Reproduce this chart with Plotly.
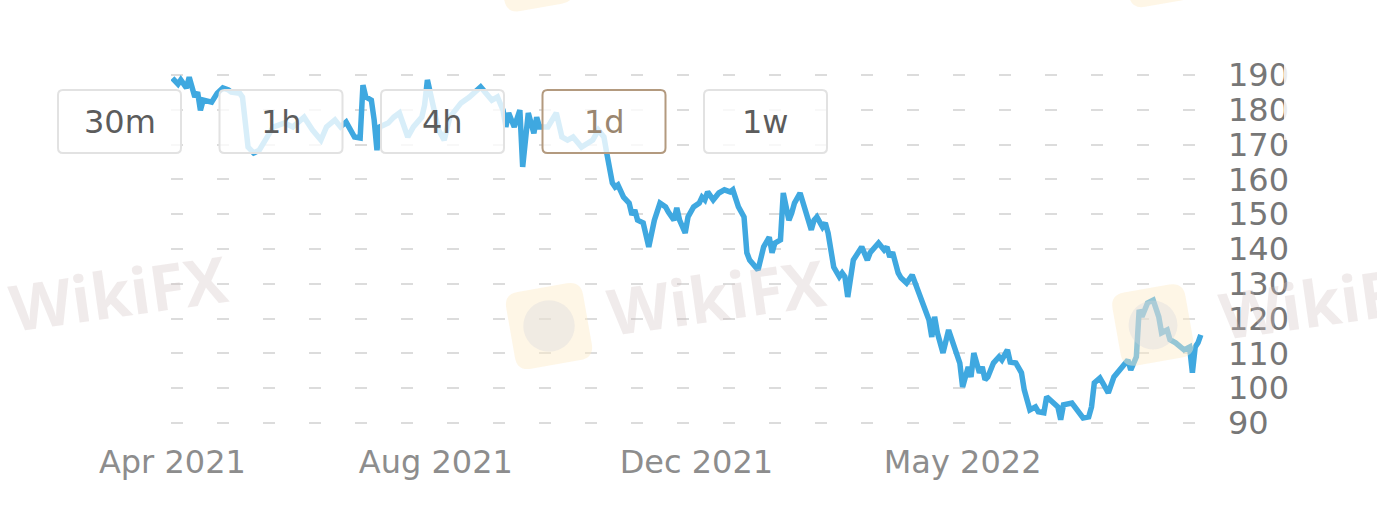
import math

import plotly.graph_objects as go

# trading-day index and closing price
DAY = [0, 2, 3, 5, 6, 8, 9, 10, 11, 14, 16, 18, 20, 21, 24, 25, 27, 29, 31, 34,
       36, 40, 43, 47, 50, 53, 55, 58, 60, 62, 63, 65, 67, 68, 69, 71, 72, 73, 74, 77,
       79, 81, 84, 86, 89, 90, 91, 93, 95, 97, 99, 103, 106, 110, 112, 114, 116, 118, 119, 120,
       122, 124, 125, 127, 129, 130, 131, 134, 137, 139, 141, 143, 146, 148, 150, 152, 154, 155, 156, 157,
       158, 159, 161, 163, 164, 165, 166, 168, 170, 171, 172, 174, 176, 177, 179, 180, 181, 183, 184, 186,
       188, 189, 190, 191, 193, 195, 197, 199, 200, 202, 204, 205, 206, 209, 211, 213, 214, 215, 217, 218,
       220, 221, 222, 224, 226, 228, 229, 230, 232, 233, 234, 236, 238, 239, 240, 241, 243, 245, 246, 248,
       249, 252, 254, 255, 256, 257, 259, 260, 262, 264, 266, 268, 270, 271, 272, 273, 274, 275, 277, 279,
       281, 282, 284, 285, 286, 288, 289, 290, 291, 293, 295, 296, 298, 299, 301, 303, 304, 306, 308, 309,
       311, 312, 314, 316, 317, 318, 321, 323, 325, 327, 328, 329, 331, 332, 334, 336, 338, 339, 341, 342,
       344, 345, 346, 348, 350, 352, 353, 355, 356, 358, 360, 361, 363, 364, 365, 366, 367]
PRICE = [189.1, 187.4, 188.6, 186.3, 189.4, 183.7, 185.1, 179.9, 182.8, 182.2, 184.8, 186.3, 185.7, 185.1, 184.8, 183.7, 169.3, 167.6, 168.4, 172.2,
         175.1, 176.2, 175.1, 177.9, 174.2, 171.3, 175.1, 177.1, 175.1, 176.5, 175.1, 172.2, 171.9, 187.1, 183.7, 182.8, 177.1, 168.4, 175.1, 176.2,
         177.9, 179.1, 172.2, 175.1, 177.9, 181.4, 188.6, 182.0, 174.2, 171.3, 177.9, 182.0, 183.7, 186.6, 184.8, 182.8, 183.7, 179.9, 175.1, 179.1,
         175.1, 179.9, 163.6, 179.1, 173.3, 177.9, 175.1, 175.1, 179.1, 172.2, 171.3, 172.2, 169.3, 170.5, 171.3, 174.2, 172.2, 167.6, 162.7, 159.0,
         157.8, 158.4, 154.9, 153.2, 149.8, 151.2, 148.3, 147.5, 140.6, 145.5, 148.3, 153.2, 152.1, 150.6, 148.3, 151.8, 148.3, 144.6, 149.2, 152.1,
         153.2, 154.9, 154.1, 156.4, 154.1, 156.1, 157.0, 156.4, 157.0, 152.1, 149.2, 138.9, 136.8, 134.0, 140.6, 143.4, 138.9, 141.7, 142.6, 156.1,
         148.3, 150.3, 153.2, 156.1, 151.2, 145.5, 148.3, 149.2, 146.3, 147.5, 144.6, 134.8, 132.0, 133.1, 132.0, 126.2, 136.8, 139.7, 140.6, 136.8,
         138.9, 141.7, 139.7, 140.6, 137.7, 139.1, 133.1, 131.7, 130.2, 132.5, 128.2, 124.8, 119.6, 114.7, 120.5, 115.9, 113.0, 110.1, 116.7, 111.8,
         107.2, 100.3, 106.1, 103.2, 110.1, 104.4, 106.1, 102.4, 103.2, 107.2, 109.0, 108.1, 111.0, 107.5, 107.2, 104.4, 99.5, 93.7, 94.6, 93.2,
         92.9, 97.5, 96.0, 94.6, 90.9, 95.2, 95.7, 93.2, 91.4, 91.7, 94.6, 101.5, 102.9, 101.5, 98.6, 103.2, 105.2, 106.1, 108.1, 105.2,
         109.0, 122.5, 120.5, 124.5, 125.3, 120.5, 115.9, 116.7, 113.9, 113.0, 111.8, 111.0, 111.8, 104.4, 111.8, 113.0, 115.3]

TICK_DAYS = [0, 94, 187, 282]
TICK_TEXT = ["Apr 2021", "Aug 2021", "Dec 2021", "May 2022"]
Y_TICKS = [90, 100, 110, 120, 130, 140, 150, 160, 170, 180, 190]
BUTTONS = ["30m", "1h", "4h", "1d", "1w"]
ACTIVE = "1d"

LINE_COLOR = "#3fa8e0"
W, H = 1377, 510
L, R, T, B = 171, 172, 65, 76
PW, PH = W - L - R, H - T - B


def px(x):
    return (x - L) / PW


def py(y):
    return 1 - (y - T) / PH


def rounded_rect(x0, y0, x1, y1, r, angle=0.0):
    """Rounded rectangle path (pixel box, optional rotation in degrees) in paper coords."""
    cx, cy = (x0 + x1) / 2, (y0 + y1) / 2
    hw, hh = (x1 - x0) / 2, (y1 - y0) / 2
    ca, sa = math.cos(math.radians(angle)), math.sin(math.radians(angle))

    def p(u, v):
        x = cx + u * ca - v * sa
        y = cy + u * sa + v * ca
        return f"{px(x)},{py(y)}"

    return (f"M {p(-hw + r, -hh)} L {p(hw - r, -hh)} Q {p(hw, -hh)} {p(hw, -hh + r)} "
            f"L {p(hw, hh - r)} Q {p(hw, hh)} {p(hw - r, hh)} L {p(-hw + r, hh)} "
            f"Q {p(-hw, hh)} {p(-hw, hh - r)} L {p(-hw, -hh + r)} Q {p(-hw, -hh)} {p(-hw + r, -hh)} Z")


fig = go.Figure()
fig.add_trace(go.Scatter(x=DAY, y=PRICE, mode="lines",
                         line={"color": LINE_COLOR, "width": 5.5},
                         hoverinfo="skip", showlegend=False))

shapes = []
annotations = []

# watermark logos and text
for x0, y0, size in [(510, 287, 78), (1116, 288, 74), (500, -62, 70), (1125, -62, 66)]:
    shapes.append({"type": "path", "xref": "paper", "yref": "paper", "layer": "above",
                   "path": rounded_rect(x0, y0, x0 + size, y0 + size, 14, -10),
                   "fillcolor": "rgba(252,236,200,0.45)", "line": {"width": 0}})
    shapes.append({"type": "circle", "xref": "paper", "yref": "paper", "layer": "above",
                   "x0": px(x0 + size * 0.17), "x1": px(x0 + size * 0.83),
                   "y0": py(y0 + size * 0.17), "y1": py(y0 + size * 0.83),
                   "fillcolor": "rgba(215,215,222,0.35)", "line": {"width": 0}})
for cx, cy in [(118, 292), (716, 296), (1328, 300)]:
    annotations.append({"text": "WikiFX", "x": px(cx), "y": py(cy), "xref": "paper", "yref": "paper",
                        "showarrow": False, "textangle": -8, "xanchor": "center", "yanchor": "middle",
                        "font": {"family": "Open Sans", "size": 64, "weight": "bold",
                                 "color": "rgba(205,190,188,0.3)"}})

# interval buttons
for i, label in enumerate(BUTTONS):
    x0 = 58 + i * 161.5
    active = label == ACTIVE
    shapes.append({"type": "path", "xref": "paper", "yref": "paper", "layer": "above",
                   "path": rounded_rect(x0, 90, x0 + 123, 153, 5),
                   "fillcolor": "rgba(255,255,255,0.8)",
                   "line": {"color": "#b39a7f" if active else "#e2e2e2", "width": 2}})
    annotations.append({"text": label, "x": px(x0 + 61.5), "y": py(122), "xref": "paper", "yref": "paper",
                        "showarrow": False, "xanchor": "center", "yanchor": "middle",
                        "font": {"family": "DejaVu Sans", "size": 32,
                                 "color": "#9a8670" if active else "#5c5c5c"}})

# faded edge over the top right tick labels
shapes.append({"type": "rect", "xref": "paper", "yref": "paper", "layer": "above",
               "x0": px(1284), "x1": px(1320), "y0": py(140), "y1": py(55),
               "fillcolor": "rgba(255,255,255,0.85)", "line": {"width": 0}})

fig.update_layout(
    width=W, height=H,
    margin={"l": L, "r": R, "t": T, "b": B},
    paper_bgcolor="white", plot_bgcolor="white",
    shapes=shapes, annotations=annotations,
    xaxis={"range": [-0.5, 368.5], "tickvals": TICK_DAYS, "ticktext": TICK_TEXT,
           "showgrid": False, "zeroline": False, "showline": False, "ticks": "",
           "ticklabelstandoff": 6,
           "tickfont": {"family": "DejaVu Sans", "size": 32, "color": "#8d8d8d"}},
    yaxis={"range": [86.8, 192.9], "side": "right", "tickvals": Y_TICKS,
           "showgrid": True, "gridcolor": "#dcdcdc", "gridwidth": 2, "griddash": "12px,34px",
           "zeroline": False, "showline": False, "ticks": "", "ticklabelstandoff": 22,
           "tickfont": {"family": "DejaVu Sans", "size": 32, "color": "#777777"}},
)

fig.write_html("out.html", config={"displayModeBar": False},
               post_script="document.body.style.margin='0px';")
